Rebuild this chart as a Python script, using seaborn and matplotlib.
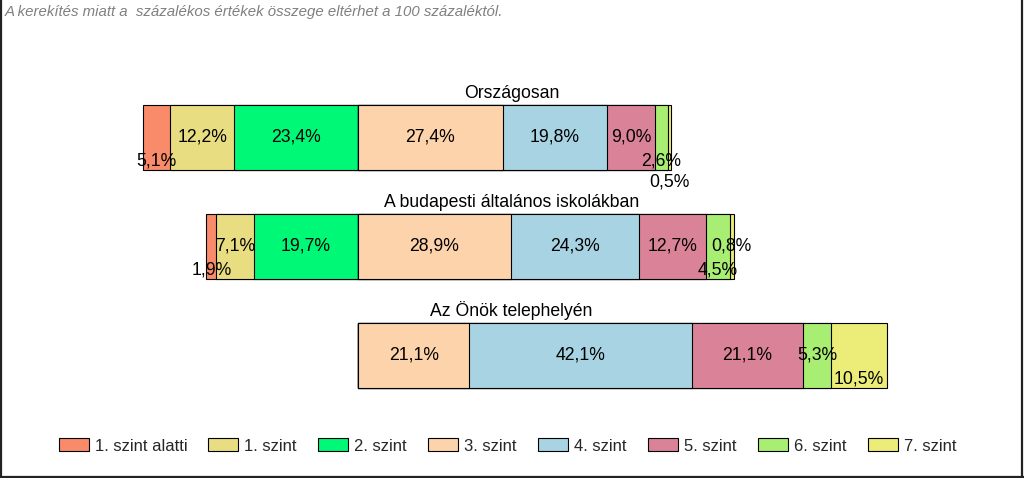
import numpy as np
import pandas as pd
import matplotlib
matplotlib.use("Agg")
import matplotlib.pyplot as plt
import seaborn as sns
from matplotlib.patches import Patch
from matplotlib.lines import Line2D
from matplotlib.transforms import blended_transform_factory

# ---------------- data ----------------
groups = ["Országosan", "A budapesti általános iskolákban", "Az Önök telephelyén"]
levels = ["1. szint alatti", "1. szint", "2. szint", "3. szint",
          "4. szint", "5. szint", "6. szint", "7. szint"]
orszagos = [5.1, 12.2, 23.4, 27.4, 19.8, 9.0, 2.6, 0.5]
budapest = [1.9, 7.1, 19.7, 28.9, 24.3, 12.7, 4.5, 0.8]
onok = [0.0, 0.0, 0.0, 21.1, 42.1, 21.1, 5.3, 10.5]
note = "A kerekítés miatt a  százalékos értékek összege eltérhet a 100 százaléktól."

# ---------------- style ----------------
colors = ["#F98B6A", "#E9DD82", "#00F877", "#FDD3AB",
          "#A7D3E2", "#DA8398", "#A8EE72", "#ECEC78"]
pivot = 3  # 3. szint starts at zero
# label placement: 'low' = lower part of bar, 'below' = under the bar
label_place = {(0, 0): "low", (0, 6): "low", (0, 7): "below",
               (1, 0): "low", (1, 6): "low", (2, 7): "low"}
place_off = {"mid": 0.0, "low": 0.215, "below": 0.41}
legend_px = [59, 208, 318, 428, 538, 648, 758, 868]

sns.set_style("white")
plt.rcParams["font.family"] = ["Liberation Sans", "DejaVu Sans"]

W, H = 1024, 478
fig = plt.figure(figsize=(W / 100, H / 100), dpi=100)
ax = fig.add_axes([10 / W, 1 - 420 / H, 1004 / W, 360 / H])

table = pd.DataFrame([orszagos, budapest, onok], index=groups, columns=levels)

# segment edges (diverging at pivot)
lefts = pd.DataFrame(0.0, index=groups, columns=levels)
for g in groups:
    v = table.loc[g].values
    for i in range(len(levels)):
        if i < pivot:
            lefts.loc[g, levels[i]] = -v[i:pivot].sum()
        else:
            lefts.loc[g, levels[i]] = v[pivot:i].sum()
rights = lefts + table

# draw overlaid cumulative bars with seaborn
draw_order = list(range(pivot)) + list(range(len(levels) - 1, pivot - 1, -1))
for i in draw_order:
    lvl = levels[i]
    ends = lefts[lvl] if i < pivot else rights[lvl]
    df = pd.DataFrame({"group": groups, "end": ends.values})
    sns.barplot(data=df, x="end", y="group", order=groups, orient="h",
                color=colors[i], saturation=1, edgecolor="black",
                linewidth=0.8, width=0.6, errorbar=None, ax=ax)

# value labels
for gi, g in enumerate(groups):
    for i, lvl in enumerate(levels):
        val = table.loc[g, lvl]
        if val <= 0:
            continue
        cx = (lefts.loc[g, lvl] + rights.loc[g, lvl]) / 2
        off = place_off[label_place.get((gi, i), "mid")]
        ax.text(cx, gi + off, f"{val:.1f}%".replace(".", ","),
                ha="center", va="center", fontsize=12.7, color="black")

# group titles
tr = blended_transform_factory(fig.transFigure, ax.transData)
for gi, g in enumerate(groups):
    ax.text(511.5 / W, gi - 0.3 - 7 / 109, g, transform=tr,
            ha="center", va="baseline", fontsize=12.7, color="black")

ax.set_xlim((10 - 358) / 5.28, (1014 - 358) / 5.28)
ax.set_ylim((420 - 137.5) / 109, (60 - 137.5) / 109)
ax.set_axis_off()

# legend, one entry per level
for i, lvl in enumerate(levels):
    fig.legend(handles=[Patch(facecolor=colors[i], edgecolor="black",
                              linewidth=0.8, label=lvl)],
               loc="center left",
               bbox_to_anchor=(legend_px[i] / W, 1 - 446 / H),
               frameon=False, borderpad=0, borderaxespad=0,
               handlelength=1.8, handleheight=0.78, handletextpad=0.38,
               fontsize=12)

# note
fig.text(5 / W, 1 - 12 / H, note, ha="left", va="center",
         style="italic", color="#808080", fontsize=10.8)

# outer border (left, right, bottom)
for xs, ys in [([1 / W, 1 / W], [0, 1]),
               ([1022 / W, 1022 / W], [0, 1]),
               ([0, 1], [1 / H, 1 / H])]:
    fig.add_artist(Line2D(xs, ys, transform=fig.transFigure,
                          color="#222222", linewidth=1.6))

fig.savefig("out.png", dpi=100)
